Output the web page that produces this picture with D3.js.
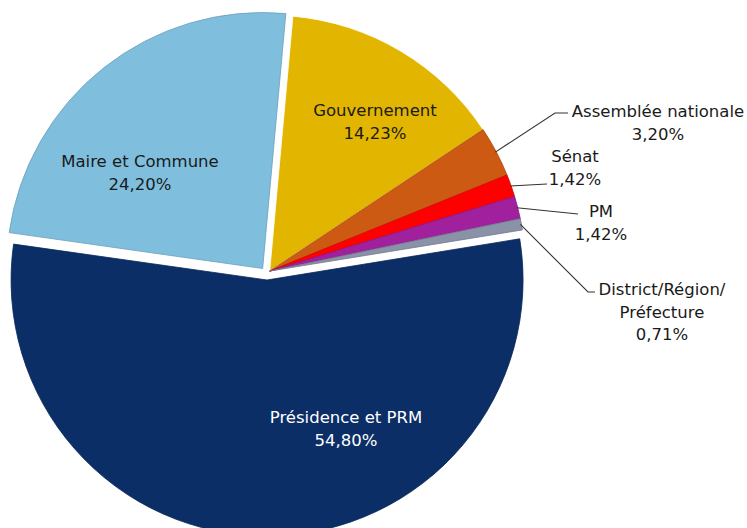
<!DOCTYPE html>
<html>
<head>
<meta charset="utf-8">
<script src="https://cdn.jsdelivr.net/npm/d3@7"></script>
<style>
  body { margin: 0; background: #fff; }
  svg text { font-family: "DejaVu Sans", sans-serif; font-size: 16.5px; }
</style>
</head>
<body>
<div id="chart"></div>
<script>
// data, clockwise from just right of 12 o'clock
var categories = ["Gouvernement", "Assemblée nationale", "Sénat", "PM", "District/Région/Préfecture", "Présidence et PRM", "Maire et Commune"];
var values = [14.23, 3.20, 1.42, 1.42, 0.71, 54.80, 24.20];
var valueLabels = ["14,23%", "3,20%", "1,42%", "1,42%", "0,71%", "54,80%", "24,20%"];
var colors = ["#E1B500", "#CD5A12", "#FF0000", "#A0209E", "#8A92A8", "#0B2E66", "#7FBFDD"];

var width = 747, height = 528;
var cx = 267, cy = 274, radius = 256;
var startDeg = 5.2;

var svg = d3.select("#chart").append("svg")
    .attr("width", width)
    .attr("height", height);

var pie = d3.pie()
    .sort(null)
    .startAngle(startDeg * Math.PI / 180)
    .endAngle((startDeg + 360) * Math.PI / 180)
    .value(function(d) { return d; });

var arcs = pie(values);
var arc = d3.arc().innerRadius(0).outerRadius(radius);

// small slices are pulled out together, the two big ones on their own
var groupStart = arcs[0].startAngle, groupEnd = arcs[4].endAngle;
function explodeOffset(i) {
    var a, dist;
    if (i <= 4) { a = (groupStart + groupEnd) / 2; dist = 4; }
    else if (i == 5) { a = (arcs[5].startAngle + arcs[5].endAngle) / 2; dist = 6; }
    else { a = (arcs[6].startAngle + arcs[6].endAngle) / 2; dist = 7; }
    return [Math.sin(a) * dist, -Math.cos(a) * dist];
}

var g = svg.append("g").attr("transform", "translate(" + cx + "," + cy + ")");

g.selectAll("path.slice")
    .data(arcs)
    .enter().append("path")
    .attr("class", "slice")
    .attr("transform", function(d, i) {
        var o = explodeOffset(i);
        return "translate(" + o[0] + "," + o[1] + ")";
    })
    .attr("d", arc)
    .attr("fill", function(d, i) { return colors[i]; })
    .attr("stroke", function(d, i) { return i == 0 ? "#fff" : d3.color(colors[i]).darker(0.5); })
    .attr("stroke-width", 0.8);

// labels inside the big slices
var inside = [
    {i: 0, x: 375, y: 116},
    {i: 6, x: 140, y: 167},
    {i: 5, x: 346, y: 423}
];
inside.forEach(function(l) {
    var t = svg.append("text")
        .attr("text-anchor", "middle")
        .attr("fill", l.i == 5 ? "#fff" : "#1a1a1a");
    t.append("tspan").attr("x", l.x).attr("y", l.y).text(categories[l.i]);
    t.append("tspan").attr("x", l.x).attr("y", l.y + 22.5).text(valueLabels[l.i]);
});

// outside labels with leader lines
var outside = [
    {i: 1, x: 658, y: 117, lines: ["Assemblée nationale"], path: [[555, 113], [568, 113]]},
    {i: 2, x: 575, y: 162, lines: ["Sénat"], path: [[547, 184]]},
    {i: 3, x: 601, y: 217, lines: ["PM"], path: [[578, 214]]},
    {i: 4, x: 662, y: 295, lines: ["District/Région/", "Préfecture"], path: [[588, 292], [595, 292]]}
];
var line = d3.line();
outside.forEach(function(l) {
    var a = arcs[l.i];
    var mid = (a.startAngle + a.endAngle) / 2;
    var o = explodeOffset(l.i);
    var start = [cx + o[0] + Math.sin(mid) * (radius - 1), cy + o[1] - Math.cos(mid) * (radius - 1)];
    svg.append("path")
        .attr("d", line([start].concat(l.path)))
        .attr("fill", "none")
        .attr("stroke", "#333")
        .attr("stroke-width", 1.1);

    var t = svg.append("text")
        .attr("text-anchor", "middle")
        .attr("fill", "#1a1a1a");
    var rows = l.lines.concat([valueLabels[l.i]]);
    rows.forEach(function(r, k) {
        t.append("tspan").attr("x", l.x).attr("y", l.y + k * 22.5).text(r);
    });
});
</script>
</body>
</html>
